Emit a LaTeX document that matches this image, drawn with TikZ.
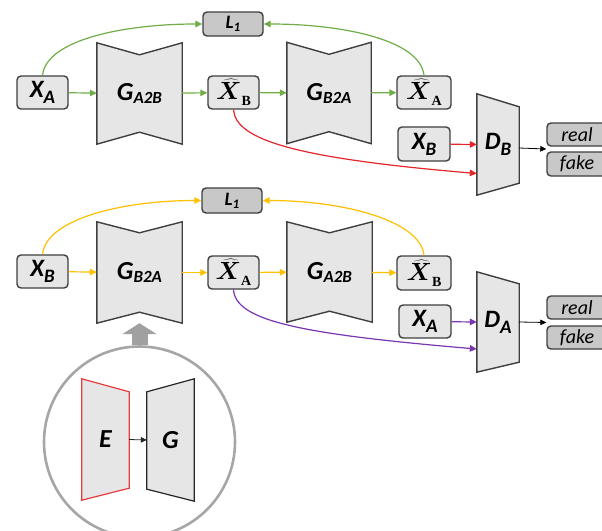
\documentclass[tikz,border=0pt]{standalone}
\usepackage{fontspec}
\setmainfont{Carlito}
\newfontfamily\serifsub{Liberation Serif}
\usetikzlibrary{arrows.meta,calc}
\pgfdeclarelayer{bg}
\pgfsetlayers{bg,main}

\definecolor{panelfill}{HTML}{E6E6E6}
\definecolor{tagfill}{HTML}{C8C8C8}
\definecolor{edge}{HTML}{3F3F3F}
\definecolor{cycgreen}{HTML}{70AD47}
\definecolor{advred}{HTML}{E3262B}
\definecolor{cycgold}{HTML}{FFC000}
\definecolor{advpurple}{HTML}{7A35B0}
\definecolor{ringgray}{HTML}{A6A6A6}
\definecolor{liftgray}{HTML}{A0A0A0}

% subscript: drop, size, text
\newcommand\low[3]{\raisebox{-#1}{\fontsize{#2}{#2}\selectfont #3}}
% reconstructed image: hatted X with an upright serif subscript
\newcommand\hatx[1]{{\boldmath$\widehat{X}$}\raisebox{-6pt}{\fontsize{14}{14}\selectfont\serifsub\bfseries\upshape #1}}

% hourglass generator outline around a node
\newcommand\hourglass[2]{%
  \begin{pgfonlayer}{bg}
  \draw[netline] (#1.north west) -- ($(#1.north)+(0,#2)$) -- (#1.north east)
    -- (#1.south east) -- ($(#1.south)+(0,-#2)$) -- (#1.south west) -- cycle;
  \end{pgfonlayer}}
% trapezoid, long side on the left
\newcommand\leftwide[4][netline]{%
  \begin{pgfonlayer}{bg}
  \draw[#1] (#2.north west) -- ($(#2.north east)+(0,#3)$)
    -- ($(#2.south east)+(0,-#4)$) -- (#2.south west) -- cycle;
  \end{pgfonlayer}}
% trapezoid, long side on the right
\newcommand\rightwide[4][netline]{%
  \begin{pgfonlayer}{bg}
  \draw[#1] ($(#2.north west)+(0,#3)$) -- (#2.north east)
    -- (#2.south east) -- ($(#2.south west)+(0,-#4)$) -- cycle;
  \end{pgfonlayer}}

\tikzset{
  imgbox/.style={draw=edge, line width=1.4pt, fill=panelfill, rounded corners=4pt,
    minimum width=51pt, minimum height=33pt, inner sep=0pt,
    font=\fontsize{25}{25}\selectfont\bfseries\itshape},
  tagbox/.style={draw=edge, line width=1.4pt, fill=tagfill, rounded corners=4pt,
    minimum width=60pt, minimum height=23pt, inner sep=0pt,
    font=\fontsize{20}{20}\selectfont\itshape},
  lossbox/.style={tagbox, minimum height=24pt,
    font=\fontsize{19}{19}\selectfont\bfseries\itshape},
  netbody/.style={inner sep=0pt, minimum width=85pt, minimum height=101pt,
    font=\fontsize{26}{26}\selectfont\bfseries\itshape},
  discbody/.style={inner sep=0pt, minimum width=42pt, minimum height=101pt,
    font=\fontsize{25}{25}\selectfont\bfseries\itshape},
  netline/.style={draw=edge, line width=1.4pt, fill=panelfill, line join=miter},
  flow/.style={line width=1.2pt, -{Triangle[length=7pt,width=6.5pt]}},
  thinflow/.style={line width=0.8pt, -{Triangle[length=6pt,width=5.5pt]}},
}

\begin{document}
\begin{tikzpicture}[x=1pt,y=-1pt]
\useasboundingbox (0,0) rectangle (602,530);

% ---------------- upper cycle: A -> B -> A ----------------
\node[imgbox] (xa1) at (42.5,92.5) {X\low{6pt}{19}{A}};
\node[netbody] (gab1) at (139.5,93.5) {G\low{3pt}{17}{A2B}};
\hourglass{gab1}{12}
\node[imgbox, minimum width=51pt] (xhb1) at (233.5,92.5) {\hatx{B}};
\node[netbody, minimum width=84pt] (gba1) at (329,93) {G\low{3pt}{17}{B2A}};
\hourglass{gba1}{12}
\node[imgbox, minimum width=54pt] (xha1) at (424,92.5) {\hatx{A}};
\node[lossbox] (l1a) at (233,24) {L\low{3pt}{13}{1}};

\node[imgbox, minimum width=52pt, minimum height=34pt] (xb1) at (424,144) {X\low{6pt}{19}{B}};
\node[discbody] (db) at (498,144.5) {D\low{6pt}{19}{B}};
\leftwide{db}{13}{12}
\node[tagbox] (real1) at (577,134.5) {real};
\node[tagbox, minimum height=24pt] (fake1) at (577,164) {fake};

\draw[flow, cycgreen] (xa1) -- (gab1);
\draw[flow, cycgreen] (gab1) -- (xhb1);
\draw[flow, cycgreen] (xhb1) -- (gba1);
\draw[flow, cycgreen] (gba1) -- (xha1);
\draw[flow, cycgreen] (xa1.north) .. controls +(4,-36) and +(-77,0) .. (l1a.west);
\draw[flow, cycgreen] (xha1.north) .. controls +(-4,-36) and +(77,0) .. (l1a.east);
\draw[flow, advred] (xb1) -- (db.west);
\draw[flow, advred] (xhb1.south) .. controls +(2,31) and +(-177,-15) .. ([yshift=-29pt]db.west);
\draw[thinflow, black] ([yshift=-3.5pt]db.east) -- ($(real1.south west)!.5!(fake1.north west)$);

% ---------------- lower cycle: B -> A -> B ----------------
\node[imgbox] (xb2) at (42.5,271.5) {X\low{6pt}{19}{B}};
\node[netbody] (gba2) at (139.5,272.5) {G\low{3pt}{17}{B2A}};
\hourglass{gba2}{11}
\node[imgbox] (xha2) at (233.5,272.5) {\hatx{A}};
\node[netbody, minimum height=100pt] (gab2) at (329.5,272) {G\low{3pt}{17}{A2B}};
\hourglass{gab2}{11}
\node[imgbox, minimum width=54pt, minimum height=34pt] (xhb2) at (424,273) {\hatx{B}};
\node[lossbox, minimum height=25pt] (l1b) at (232,200.5) {L\low{3pt}{13}{1}};

\node[imgbox, minimum width=52pt] (xa2) at (425,321.5) {X\low{6pt}{19}{A}};
\node[discbody, minimum height=100pt] (da) at (498,322) {D\low{6pt}{19}{A}};
\leftwide{da}{12}{10}
\node[tagbox] (real2) at (577,307.5) {real};
\node[tagbox] (fake2) at (577,337.5) {fake};

\draw[flow, cycgold] (xb2) -- (gba2);
\draw[flow, cycgold] (gba2) -- (xha2);
\draw[flow, cycgold] (xha2) -- (gab2);
\draw[flow, cycgold] (gab2) -- (xhb2);
\draw[flow, cycgold] (xb2.north) .. controls +(4,-36) and +(-77,0) .. (l1b.west);
\draw[flow, cycgold] (xhb2.north) .. controls +(-4,-36) and +(77,0) .. (l1b.east);
\draw[flow, advpurple] (xa2) -- (da.west);
\draw[flow, advpurple] (xha2.south) .. controls +(2,31) and +(-177,-15) .. ([yshift=-27pt]da.west);
\draw[thinflow, black] (da.east) -- ($(real2.south west)!.5!(fake2.north west)$);

% ---------------- inset: the generator split into E and G ----------------
\node[circle, draw=ringgray, line width=2.6pt, minimum size=191pt, inner sep=0pt] (ring) at (139.5,442) {};
\draw[liftgray, line width=16pt, -{Triangle[length=11pt,width=34pt]}] (ring.north) -- (gba2.south);

\node[inner sep=0pt, minimum width=47pt, minimum height=121pt,
  font=\fontsize{26}{26}\selectfont\bfseries\itshape] (enc) at (105.5,439.5) {E};
\leftwide[netline, draw=advred!90!white, line width=1.2pt]{enc}{13}{12}
\node[inner sep=0pt, minimum width=47pt, minimum height=122pt,
  font=\fontsize{26}{26}\selectfont\bfseries\itshape] (dec) at (170.5,440) {G};
\rightwide[netline, draw=black!85, line width=1.2pt]{dec}{13}{12}
\draw[thinflow, black!85] (enc.east) -- (dec.west);
\end{tikzpicture}
\end{document}
